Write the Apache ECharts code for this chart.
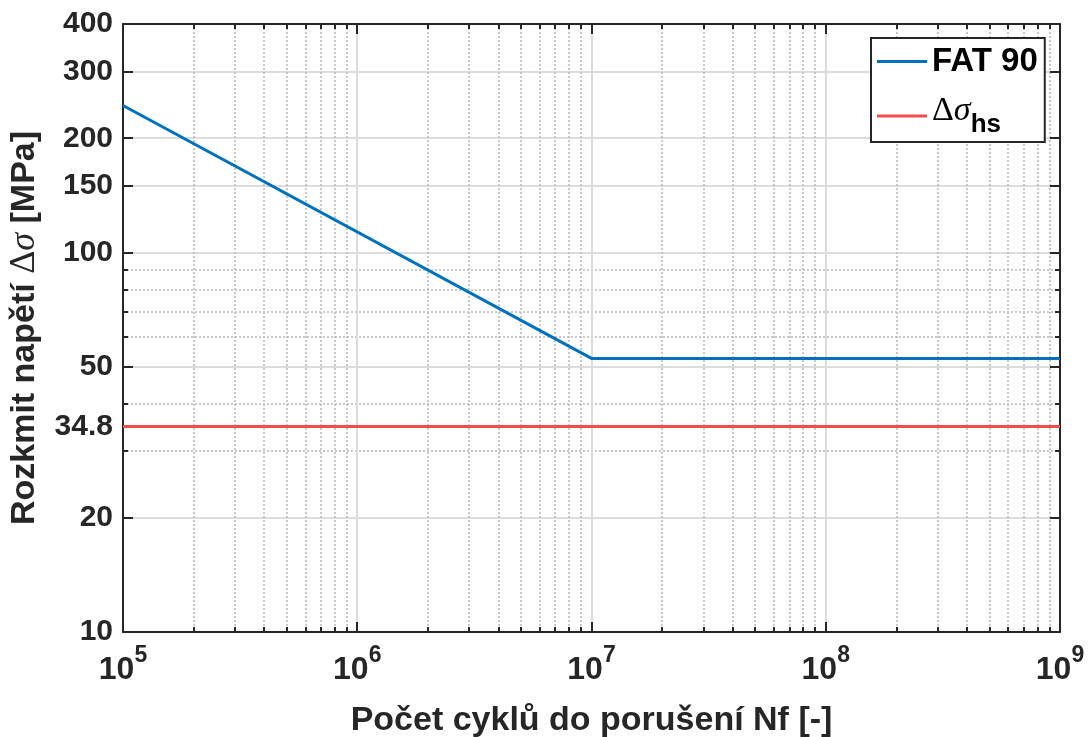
<!DOCTYPE html>
<html>
<head>
<meta charset="utf-8">
<script src="https://cdn.jsdelivr.net/npm/echarts@6/dist/echarts.min.js"></script>
<style>
html,body{margin:0;padding:0;background:#fff;}
#chart{width:1088px;height:737px;}
</style>
</head>
<body>
<div id="chart"></div>
<script>
// ---- data ----
const fatN = [1e5, 1e7, 1e9];
const fatS = [244, 52.6, 52.6];
const hsN = [1e5, 1e9];
const hsS = [34.8, 34.8];

// ---- ticks ----
const xMajorTicks = [1e5, 1e6, 1e7, 1e8, 1e9];
const xTickExponents = ['5', '6', '7', '8', '9'];
const xMinorTicks = [
  2e5, 3e5, 4e5, 5e5, 6e5, 7e5, 8e5, 9e5,
  2e6, 3e6, 4e6, 5e6, 6e6, 7e6, 8e6, 9e6,
  2e7, 3e7, 4e7, 5e7, 6e7, 7e7, 8e7, 9e7,
  2e8, 3e8, 4e8, 5e8, 6e8, 7e8, 8e8, 9e8
];
const yMajorTicks = [10, 20, 34.8, 50, 100, 150, 200, 300, 400];
const yTickLabels = ['10', '20', '34.8', '50', '100', '150', '200', '300', '400'];
const yMinorTicks = [30, 40, 60, 70, 80, 90];

const AX = '#262626';
const FONT = 'Liberation Sans, Arial, sans-serif';
const SERIF = 'Liberation Serif, DejaVu Serif, serif';

const gridBox = {left: 123, right: 28, top: 24, bottom: 105, outerBoundsMode: 'none', containLabel: false};

function xMajor(pos, extra) {
  return Object.assign({
    type: 'log', logBase: 10, min: 1e5, max: 1e9, gridIndex: 0, position: pos,
    axisLine: {show: true, onZero: false, lineStyle: {color: AX, width: 2}},
    axisTick: {show: true, inside: true, length: 10, customValues: xMajorTicks, lineStyle: {color: AX, width: 2}},
    axisLabel: {show: false},
    splitLine: {show: false}
  }, extra || {});
}
function xMinor(pos, extra) {
  return Object.assign({
    type: 'log', logBase: 10, min: 1e5, max: 1e9, gridIndex: 1, position: pos,
    axisLine: {show: false, onZero: false},
    axisTick: {show: true, inside: true, length: 5, customValues: xMinorTicks, lineStyle: {color: AX, width: 2}},
    axisLabel: {show: false},
    splitLine: {show: false}
  }, extra || {});
}
function yMajor(pos, extra) {
  return Object.assign({
    type: 'log', logBase: 10, min: 10, max: 400, gridIndex: 0, position: pos,
    axisLine: {show: true, onZero: false, lineStyle: {color: AX, width: 2}},
    axisTick: {show: true, inside: true, length: 10, customValues: yMajorTicks, lineStyle: {color: AX, width: 2}},
    axisLabel: {show: false},
    splitLine: {show: false}
  }, extra || {});
}
function yMinor(pos, extra) {
  return Object.assign({
    type: 'log', logBase: 10, min: 10, max: 400, gridIndex: 1, position: pos,
    axisLine: {show: false, onZero: false},
    axisTick: {show: true, inside: true, length: 5, customValues: yMinorTicks, lineStyle: {color: AX, width: 2}},
    axisLabel: {show: false},
    splitLine: {show: false}
  }, extra || {});
}

const majorGridLine = {show: true, lineStyle: {color: '#dcdcdc', width: 2, type: 'solid'}};
const minorGridLine = {show: true, lineStyle: {color: '#b8b8b8', width: 1.5, type: [2, 2]}};

const option = {
  animation: false,
  backgroundColor: '#ffffff',
  grid: [Object.assign({}, gridBox), Object.assign({}, gridBox)],
  xAxis: [
    xMajor('bottom', {
      splitLine: majorGridLine,
      axisLabel: {
        show: true, customValues: xMajorTicks, margin: 12,
        formatter: function (v) {
          const i = xMajorTicks.findIndex(t => Math.abs(Math.log10(t) - Math.log10(v)) < 1e-6);
          return '{b|10}{s|' + (i >= 0 ? xTickExponents[i] : '') + '}';
        },
        rich: {
          b: {fontFamily: FONT, fontSize: 32, fontWeight: 'bold', color: AX, lineHeight: 42, verticalAlign: 'bottom'},
          s: {fontFamily: FONT, fontSize: 23, fontWeight: 'bold', color: AX, lineHeight: 22, verticalAlign: 'top'}
        }
      },
      name: 'Počet cyklů do porušení Nf [-]',
      nameLocation: 'middle', nameGap: 72,
      nameTextStyle: {fontFamily: FONT, fontSize: 34, fontWeight: 'bold', color: AX}
    }),
    xMajor('top'),
    xMinor('bottom', {splitLine: minorGridLine}),
    xMinor('top')
  ],
  yAxis: [
    yMajor('left', {
      splitLine: majorGridLine,
      axisLabel: {
        show: true, customValues: yMajorTicks, margin: 10,
        fontFamily: FONT, fontSize: 30, fontWeight: 'bold', color: AX,
        formatter: function (v) {
          const i = yMajorTicks.findIndex(t => Math.abs(t - v) < 1e-6 * t);
          return i >= 0 ? yTickLabels[i] : '';
        }
      },
      name: '{a|Rozkmit napětí }{d|Δ}{g|σ}{a| [MPa]}',
      nameLocation: 'middle', nameGap: 80, nameRotate: 90,
      nameTextStyle: {
        rich: {
          a: {fontFamily: FONT, fontSize: 34, fontWeight: 'bold', color: AX},
          d: {fontFamily: SERIF, fontSize: 36, color: AX},
          g: {fontFamily: SERIF, fontSize: 36, fontStyle: 'italic', color: AX}
        }
      }
    }),
    yMajor('right'),
    yMinor('left', {splitLine: minorGridLine}),
    yMinor('right')
  ],
  legend: {
    show: true, orient: 'vertical', left: 871, top: 38,
    backgroundColor: '#ffffff', borderColor: AX, borderWidth: 2,
    padding: [7, 7, 4, 6], itemGap: 10, itemWidth: 50, itemHeight: 3, icon: 'rect',
    data: ['FAT 90', 'dsig_hs'],
    formatter: function (name) {
      if (name === 'FAT 90') return '{a|FAT 90}';
      return '{d|Δ}{g|σ}{h|hs}';
    },
    textStyle: {
      rich: {
        a: {fontFamily: FONT, fontSize: 33, fontWeight: 'bold', color: '#000', lineHeight: 44},
        d: {fontFamily: SERIF, fontSize: 34, color: '#000', lineHeight: 44, verticalAlign: 'top'},
        g: {fontFamily: SERIF, fontSize: 34, fontStyle: 'italic', color: '#000', lineHeight: 44, verticalAlign: 'top'},
        h: {fontFamily: FONT, fontSize: 26, fontWeight: 'bold', color: '#000', lineHeight: 26, padding: [24, 0, 0, 0], verticalAlign: 'bottom'}
      }
    }
  },
  series: [
    {
      name: 'FAT 90', type: 'line', xAxisIndex: 0, yAxisIndex: 0,
      data: fatN.map((n, i) => [n, fatS[i]]),
      showSymbol: false, symbol: 'none', color: '#0072BD',
      lineStyle: {color: '#0072BD', width: 3}, z: 5
    },
    {
      name: 'dsig_hs', type: 'line', xAxisIndex: 0, yAxisIndex: 0,
      data: hsN.map((n, i) => [n, hsS[i]]),
      showSymbol: false, symbol: 'none', color: '#F44B4B',
      lineStyle: {color: '#F44B4B', width: 3}, z: 4
    }
  ]
};

const chart = echarts.init(document.getElementById('chart'), null, {renderer: 'canvas'});
chart.setOption(option);
</script>
</body>
</html>
